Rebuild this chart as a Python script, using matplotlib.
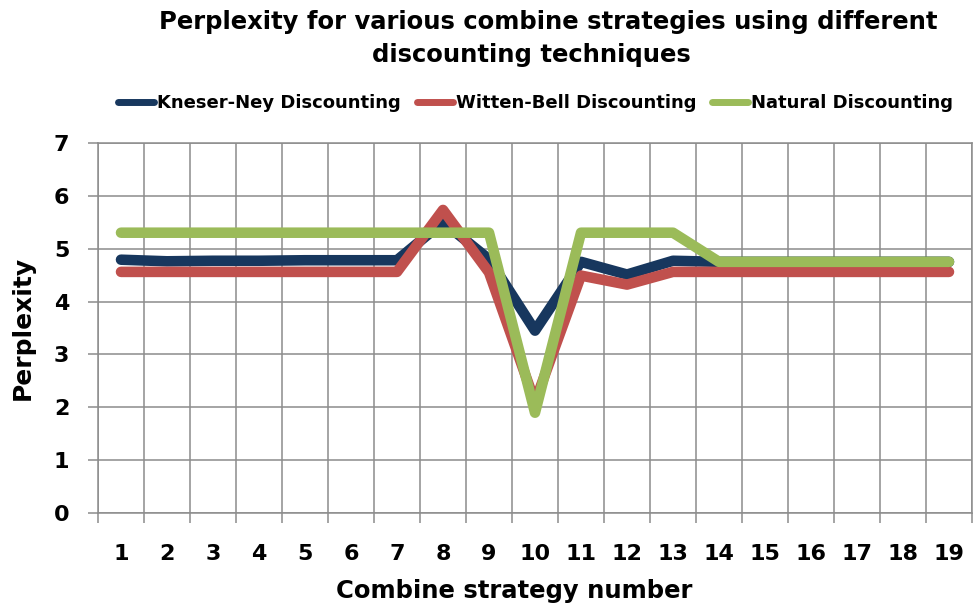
import numpy as np
import matplotlib
matplotlib.use('Agg')
import matplotlib.pyplot as plt
from matplotlib.lines import Line2D

strategies = list(range(1, 20))
kneser_ney = [4.79, 4.76, 4.77, 4.77, 4.78, 4.78, 4.78, 5.50, 4.80, 3.45,
              4.75, 4.51, 4.77, 4.75, 4.75, 4.75, 4.75, 4.75, 4.75]
witten_bell = [4.56, 4.56, 4.56, 4.56, 4.56, 4.56, 4.56, 5.73, 4.55, 2.10,
               4.49, 4.32, 4.56, 4.56, 4.56, 4.56, 4.56, 4.56, 4.56]
natural = [5.30, 5.30, 5.30, 5.30, 5.30, 5.30, 5.30, 5.30, 5.30, 1.90,
           5.30, 5.30, 5.30, 4.75, 4.75, 4.75, 4.75, 4.75, 4.75]

series_names = ['Kneser-Ney Discounting', 'Witten-Bell Discounting', 'Natural Discounting']
series_colors = ['#17375E', '#C0504D', '#9BBB59']
grid_color = '#8C8C8C'

plt.rcParams['font.family'] = 'DejaVu Sans'
plt.rcParams['font.weight'] = 'bold'

W, H = 974, 606
fig = plt.figure(figsize=(W / 100, H / 100), dpi=100)
ax = fig.add_axes([98 / W, (H - 513.3) / H, 874 / W, 370.6 / H])

for vals, color, name in zip([kneser_ney, witten_bell, natural], series_colors, series_names):
    ax.plot(strategies, vals, color=color, lw=7.6, solid_capstyle='round',
            solid_joinstyle='round', label=name, zorder=3)

ax.set_xlim(0.5, 19.5)
ax.set_ylim(0, 7)
ax.set_xticks(strategies)
ax.set_xticks(np.arange(0.5, 20, 1), minor=True)
ax.set_yticks(range(8))

ax.tick_params(axis='x', which='major', length=0, pad=22, labelsize=16)
ax.tick_params(axis='x', which='minor', length=7.2, width=1.1, color=grid_color)
ax.tick_params(axis='y', length=7.2, width=1.1, color=grid_color, pad=13.5, labelsize=16)
ax.grid(axis='x', which='minor', color=grid_color, lw=1.1)
ax.grid(axis='y', which='major', color=grid_color, lw=1.1)
ax.set_axisbelow(True)
for s in ax.spines.values():
    s.set_color(grid_color)
    s.set_linewidth(1.1)

ax.set_xlabel('Combine strategy number', fontsize=17.5, fontweight='bold')
ax.xaxis.set_label_coords((514.5 - 98) / 874, -(598 - 513.3) / 370.6)
ax.xaxis.label.set_va('baseline')
ax.set_ylabel('Perplexity', fontsize=18, fontweight='bold')
ax.yaxis.set_label_coords((35 - 98) / 874, 0.5)

fig.text(548 / W, 1 - 28.5 / H, 'Perplexity for various combine strategies using different',
         ha='center', va='baseline', fontsize=17.5, fontweight='bold')
fig.text(531 / W, 1 - 62 / H, 'discounting techniques',
         ha='center', va='baseline', fontsize=17.5, fontweight='bold')

handles = [Line2D([], [], color=c, lw=5, solid_capstyle='round') for c in series_colors]
fig.legend(handles, series_names, loc='center', bbox_to_anchor=(535.5 / W, 1 - 103 / H),
           ncol=3, frameon=False, fontsize=13, handlelength=2.0, handletextpad=0.15,
           columnspacing=0.9, borderpad=0)

fig.savefig('out.png', dpi=100)
